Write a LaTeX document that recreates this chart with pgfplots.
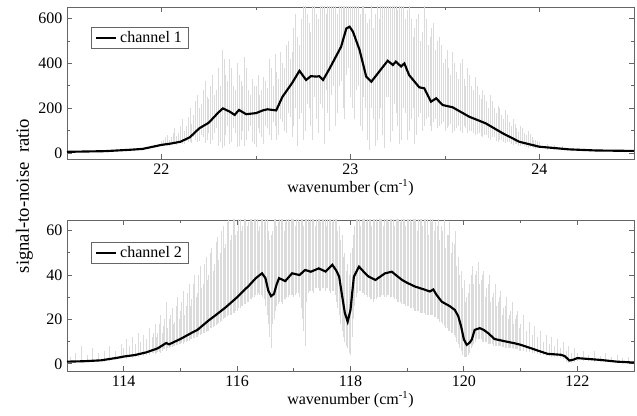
\documentclass[border=0pt]{standalone}
\usepackage{pgfplots}
\pgfplotsset{compat=1.18}
\usepackage{fontspec}
\setmainfont{Liberation Serif}
\definecolor{haze}{gray}{0.86}
\definecolor{frame}{gray}{0.4}
\pgfplotsset{
  panel/.style={
    scale only axis,
    width=425.25pt,
    axis line style={frame, line width=0.7pt},
    tick style={frame, line width=0.6pt},
    tick align=inside,
    major tick length=4pt,
    minor tick length=2.5pt,
    minor tick num=1,
    /pgf/number format/assume math mode=true,
    tick label style={font=\rmfamily\fontsize{12}{14}\selectfont},
    label style={font=\rmfamily\fontsize{12}{14}\selectfont},
    xlabel={wavenumber (cm\textsuperscript{-1})},
    xlabel style={yshift=3pt},
    legend cell align=left,
    legend style={draw=frame, line width=0.6pt, font=\rmfamily\fontsize{12}{14}\selectfont,
      inner xsep=3pt, inner ysep=1pt, anchor=north west},
    legend image code/.code={\draw[#1, line width=1.6pt] (0pt,0pt) -- (15pt,0pt);},
  },
  spikes/.style={draw=none, mark=none, forget plot,
    error bars/.cd, y dir=plus, y explicit, error mark=none,
    error bar style={draw=haze, solid, line width=0.5pt}},
}
\begin{document}
\begin{tikzpicture}
\begin{axis}[panel, name=top, at={(0,0)}, anchor=north west,
  height=114pt, xmin=21.5, xmax=24.5, ymin=-27, ymax=652,
  xtick={22,23,24}, ytick={0,200,400,600},
  legend style={at={(24/567,1-20/152)}}]
\addplot[spikes] table[row sep=\\, x=x, y=lo, y error plus expr=\thisrow{hi}-\thisrow{lo}] {
x lo hi\\
21.70 6 10\\ 21.80 10 16\\ 21.90 14 24\\ 21.96 20 34\\
22.00 30 55\\ 22.02 35 70\\ 22.04 30 60\\ 22.06 40 90\\ 22.08 35 75\\ 22.10 45 120\\
22.12 40 100\\ 22.14 50 160\\ 22.16 45 130\\ 22.18 60 230\\ 22.20 55 200\\ 22.22 70 280\\
22.24 60 250\\ 22.26 40 300\\ 22.28 90 260\\ 22.30 30 380\\ 22.32 20 460\\ 22.34 80 350\\
22.36 40 420\\ 22.38 110 300\\ 22.40 25 400\\ 22.42 60 320\\ 22.44 30 430\\ 22.46 100 280\\
22.48 50 330\\ 22.50 25 300\\ 22.52 90 260\\ 22.54 40 340\\ 22.56 110 290\\ 22.58 60 380\\
22.60 120 440\\ 22.62 80 330\\ 22.64 140 400\\ 22.66 90 480\\ 22.68 160 420\\ 22.70 120 560\\
22.72 30 520\\ 22.74 180 600\\ 22.76 100 660\\ 22.78 200 580\\ 22.80 60 660\\ 22.82 150 620\\
22.84 220 660\\ 22.86 40 660\\ 22.88 180 660\\ 22.90 260 660\\ 22.92 120 660\\ 22.94 300 660\\
22.96 200 660\\ 22.98 350 660\\ 23.00 250 660\\ 23.02 150 660\\ 23.04 300 660\\ 23.06 100 660\\
23.08 200 620\\ 23.10 15 600\\ 23.12 150 560\\ 23.14 60 660\\ 23.16 200 660\\ 23.18 20 660\\
23.20 250 660\\ 23.22 100 660\\ 23.24 180 660\\ 23.26 40 660\\ 23.28 200 660\\ 23.30 60 640\\
23.32 150 600\\ 23.34 40 560\\ 23.36 160 620\\ 23.38 100 540\\ 23.40 150 600\\ 23.42 120 520\\
23.44 140 580\\ 23.46 110 500\\ 23.48 130 480\\ 23.50 100 420\\ 23.52 120 380\\ 23.54 90 450\\
23.56 110 360\\ 23.58 100 400\\ 23.60 120 330\\ 23.62 90 380\\ 23.64 100 300\\ 23.66 80 340\\
23.68 90 260\\ 23.70 70 280\\ 23.72 80 230\\ 23.74 60 260\\ 23.76 70 200\\ 23.78 50 210\\
23.80 60 170\\ 23.82 45 190\\ 23.84 50 140\\ 23.86 35 150\\ 23.88 40 110\\ 23.90 30 120\\
23.92 30 90\\ 23.94 22 100\\ 23.96 25 70\\ 23.98 18 60\\ 24.00 20 50\\ 24.04 15 40\\
24.08 14 35\\ 24.12 12 30\\ 24.20 10 22\\ 24.30 8 16\\
};
\addplot[spikes] table[row sep=\\, x=x, y=lo, y error plus expr=\thisrow{hi}-\thisrow{lo}] {
x lo hi\\
22.01 35 60\\ 22.03 32 80\\ 22.05 40 70\\ 22.07 38 110\\ 22.09 45 90\\ 22.11 42 150\\
22.13 55 120\\ 22.15 50 200\\ 22.17 70 170\\ 22.19 50 260\\ 22.21 80 220\\ 22.23 45 320\\
22.25 90 240\\ 22.27 60 350\\ 22.29 110 280\\ 22.31 50 300\\ 22.33 30 420\\ 22.35 120 320\\
22.37 50 380\\ 22.39 90 280\\ 22.41 30 350\\ 22.43 100 300\\ 22.45 60 380\\ 22.47 120 260\\
22.49 40 300\\ 22.51 110 350\\ 22.53 70 280\\ 22.55 120 320\\ 22.57 80 420\\ 22.59 140 300\\
22.61 60 360\\ 22.63 150 450\\ 22.65 100 380\\ 22.67 180 500\\ 22.69 70 450\\ 22.71 200 620\\
22.73 150 480\\ 22.75 60 660\\ 22.77 220 620\\ 22.79 120 540\\ 22.81 250 660\\ 22.83 90 600\\
22.85 200 660\\ 22.87 280 620\\ 22.89 100 660\\ 22.91 300 660\\ 22.93 180 620\\ 22.95 320 660\\
22.97 150 660\\ 22.99 380 660\\ 23.01 200 660\\ 23.03 280 660\\ 23.05 120 620\\ 23.07 250 660\\
23.09 60 580\\ 23.11 200 660\\ 23.13 30 620\\ 23.15 150 600\\ 23.17 80 660\\ 23.19 250 660\\
23.21 50 660\\ 23.23 220 660\\ 23.25 120 640\\ 23.27 60 660\\ 23.29 180 600\\ 23.31 100 660\\
23.33 200 520\\ 23.35 80 600\\ 23.37 180 500\\ 23.39 120 660\\ 23.41 160 480\\ 23.43 100 560\\
23.45 150 460\\ 23.47 120 520\\ 23.49 140 400\\ 23.51 110 460\\ 23.53 130 350\\ 23.55 100 400\\
23.57 120 330\\ 23.59 90 420\\ 23.61 110 300\\ 23.63 100 350\\ 23.65 90 280\\ 23.67 85 300\\
23.69 75 240\\ 23.71 80 260\\ 23.73 65 200\\ 23.75 70 230\\ 23.77 55 180\\ 23.79 60 200\\
23.81 48 150\\ 23.83 50 170\\ 23.85 40 120\\ 23.87 42 130\\ 23.89 32 95\\ 23.91 35 110\\
23.93 26 80\\ 23.95 28 85\\ 23.97 20 60\\ 23.99 22 55\\
};
\addplot[black, line width=1.6pt] coordinates {
(21.5,5)(21.7,8)(21.83,14)(21.9,18)(22.0,36)(22.05,42)(22.1,50)(22.15,70)(22.2,110)
(22.25,135)(22.3,180)(22.325,199)(22.36,185)(22.387,170)(22.41,192)(22.448,173)(22.5,178)
(22.536,190)(22.56,195)(22.607,190)(22.64,251)(22.69,311)(22.73,367)(22.765,326)(22.79,343)
(22.82,341)(22.835,343)(22.855,326)(22.89,378)(22.95,474)(22.978,556)(22.995,564)(23.013,542)
(23.048,460)(23.083,341)(23.11,318)(23.145,356)(23.197,412)(23.224,393)(23.24,408)(23.268,386)
(23.285,400)(23.31,348)(23.364,293)(23.39,289)(23.426,229)(23.453,244)(23.488,214)(23.54,204)
(23.628,162)(23.716,132)(23.805,88)(23.893,50)(23.998,28)(24.156,16)(24.3,11)(24.5,9)
};
\addlegendentry{channel 1}
\end{axis}
\begin{axis}[panel, name=bottom, at={(0,-159.75pt)}, anchor=north west,
  height=113.25pt, xmin=113, xmax=123, ymin=-3.2, ymax=64.8,
  xtick={114,116,118,120,122}, ytick={0,20,40,60},
  legend style={at={(24/567,1-21.7/151)}}]
\addplot[spikes] table[row sep=\\, x=x, y=lo, y error plus expr=\thisrow{hi}-\thisrow{lo}] {
x lo hi\\
113.05 0.5 3\\ 113.15 0.8 5\\ 113.25 0.5 8\\ 113.35 1 4\\ 113.45 0.8 7\\ 113.55 1.2 5\\
113.65 1 6\\ 113.75 1.5 8\\ 113.85 1.8 6\\ 113.95 2 9\\ 114.00 2.5 7\\ 114.05 2.2 11\\
114.10 3 8\\ 114.15 2.5 12\\ 114.20 3.2 9\\ 114.25 3 14\\ 114.30 3.8 10\\ 114.35 3.5 13\\
114.40 4.2 11\\ 114.45 4 16\\ 114.50 4.8 12\\ 114.55 4.5 18\\ 114.60 5.5 14\\ 114.65 5 22\\
114.70 6.5 17\\ 114.75 6 28\\ 114.80 7 20\\ 114.85 7.5 25\\ 114.90 8 19\\ 114.95 8.5 30\\
115.00 9 24\\ 115.05 9 33\\ 115.10 10 26\\ 115.15 10.5 36\\ 115.20 11 29\\ 115.25 11.5 40\\
115.30 12 32\\ 115.35 13 44\\ 115.40 14 36\\ 115.45 14.5 48\\ 115.50 15 40\\ 115.55 16 52\\
115.60 17 45\\ 115.65 18 57\\ 115.70 19 50\\ 115.75 20 62\\ 115.80 21 54\\ 115.85 22 66\\
115.90 22 58\\ 115.95 23 66\\ 116.00 24 60\\ 116.05 25 66\\ 116.10 26 62\\ 116.15 27 66\\
116.20 28 64\\ 116.25 29 66\\ 116.30 30 66\\ 116.35 31 66\\ 116.40 31 62\\ 116.45 30 66\\
116.50 26 66\\ 116.55 18 60\\ 116.60 7 58\\ 116.65 20 66\\ 116.70 26 62\\ 116.75 28 66\\
116.80 27 66\\ 116.85 29 64\\ 116.90 30 66\\ 116.95 31 66\\ 117.00 30 66\\ 117.05 32 66\\
117.10 30 64\\ 117.15 20 66\\ 117.20 8 66\\ 117.25 32 66\\ 117.30 33 66\\ 117.35 32 66\\
117.40 34 66\\ 117.45 33 66\\ 117.50 34 66\\ 117.55 33 66\\ 117.60 34 66\\ 117.65 32 66\\
117.70 33 66\\ 117.75 28 66\\ 117.80 22 62\\ 117.85 15 58\\ 117.90 10 50\\ 117.95 7 45\\
118.00 4 50\\ 118.05 20 58\\ 118.10 30 66\\ 118.15 33 66\\ 118.20 32 66\\ 118.25 31 66\\
118.30 30 66\\ 118.35 29 66\\ 118.40 28 66\\ 118.45 29 66\\ 118.50 30 66\\ 118.55 31 66\\
118.60 30 66\\ 118.65 31 66\\ 118.70 30 66\\ 118.75 30 66\\ 118.80 29 66\\ 118.85 28 66\\
118.90 27 66\\ 118.95 27 66\\ 119.00 26 66\\ 119.05 25 66\\ 119.10 25 66\\ 119.15 24 66\\
119.20 24 66\\ 119.25 23 66\\ 119.30 23 66\\ 119.35 22 66\\ 119.40 22 66\\ 119.45 22 66\\
119.50 21 64\\ 119.55 20 66\\ 119.60 19 62\\ 119.65 17 66\\ 119.70 16 58\\ 119.75 15 64\\
119.80 14 55\\ 119.85 12 60\\ 119.90 9 48\\ 119.95 6 42\\ 120.00 3 38\\ 120.05 3 30\\
120.10 5 36\\ 120.15 8 44\\ 120.20 10 40\\ 120.25 11 46\\ 120.30 11 38\\ 120.35 10 42\\
120.40 10 34\\ 120.45 9 40\\ 120.50 9 30\\ 120.55 8 36\\ 120.60 8 28\\ 120.65 8 33\\
120.70 7.5 25\\ 120.75 7 30\\ 120.80 7 22\\ 120.85 7 28\\ 120.90 6.5 20\\ 120.95 6.5 24\\
121.00 6 18\\ 121.05 6 22\\ 121.10 5.5 15\\ 121.15 5.5 19\\ 121.20 5 13\\ 121.25 5 17\\
121.30 4.5 12\\ 121.35 4 15\\ 121.40 4 10\\ 121.45 3.5 13\\ 121.50 3.5 9\\ 121.55 3 12\\
121.60 3 8\\ 121.65 3 11\\ 121.70 2.5 7\\ 121.75 2 10\\ 121.80 1 6\\ 121.85 0.5 8\\
121.90 0.5 5\\ 121.95 1 7\\ 122.00 1.5 5\\ 122.10 1.5 6\\ 122.20 1.5 4\\ 122.30 1 6\\
122.40 1 3.5\\ 122.50 0.8 5\\ 122.60 0.8 3\\ 122.70 0.6 4\\ 122.80 0.6 2.5\\ 122.90 0.5 3\\
};
\addplot[spikes] table[row sep=\\, x=x, y=lo, y error plus expr=\thisrow{hi}-\thisrow{lo}] {
x lo hi\\
114.525 5 14\\ 114.575 5 12\\ 114.625 5.5 18\\ 114.675 6 14\\ 114.725 6.5 20\\ 114.775 7 16\\
114.825 7.5 22\\ 114.875 8 18\\ 114.925 8.5 26\\ 114.975 9 20\\ 115.025 9.5 28\\ 115.075 10 22\\
115.125 10.5 32\\ 115.175 11 26\\ 115.225 11.5 36\\ 115.275 12 30\\ 115.325 13 40\\ 115.375 13.5 34\\
115.425 14 45\\ 115.475 15 38\\ 115.525 16 50\\ 115.575 16.5 42\\ 115.625 17.5 55\\ 115.675 18.5 47\\
115.725 19.5 60\\ 115.775 20.5 52\\ 115.825 21.5 64\\ 115.875 22 56\\ 115.925 23 66\\ 115.975 24 58\\
116.025 25 66\\ 116.075 26 60\\ 116.125 27 66\\ 116.175 28 62\\ 116.225 29 66\\ 116.275 30 64\\
116.325 31 66\\ 116.375 32 60\\ 116.425 31 66\\ 116.475 29 64\\ 116.525 22 66\\ 116.575 12 56\\
116.625 18 60\\ 116.675 24 66\\ 116.725 27 64\\ 116.775 28 66\\ 116.825 29 60\\ 116.875 30 66\\
116.925 31 64\\ 116.975 31 66\\ 117.025 31 62\\ 117.075 32 66\\ 117.125 25 66\\ 117.175 15 62\\
117.225 28 66\\ 117.275 33 64\\ 117.325 33 66\\ 117.375 34 62\\ 117.425 34 66\\ 117.475 33 64\\
117.525 34 66\\ 117.575 34 62\\ 117.625 33 66\\ 117.675 33 64\\ 117.725 31 66\\ 117.775 25 60\\
117.825 18 56\\ 117.875 12 48\\ 117.925 8 42\\ 117.975 5 40\\ 118.025 12 52\\ 118.075 26 62\\
118.125 32 66\\ 118.175 33 62\\ 118.225 32 66\\ 118.275 31 64\\ 118.325 30 66\\ 118.375 29 62\\
118.425 29 66\\ 118.475 30 64\\ 118.525 30 66\\ 118.575 31 62\\ 118.625 30 66\\ 118.675 31 64\\
118.725 30 66\\ 118.775 29 62\\ 118.825 28 66\\ 118.875 28 64\\ 118.925 27 66\\ 118.975 26 62\\
119.025 26 66\\ 119.075 25 64\\ 119.125 24 66\\ 119.175 24 60\\ 119.225 23 66\\ 119.275 23 62\\
119.325 22 66\\ 119.375 22 58\\ 119.425 22 64\\ 119.475 21 60\\ 119.525 20 62\\ 119.575 19 56\\
119.625 18 60\\ 119.675 16 52\\ 119.725 15 58\\ 119.775 14 50\\ 119.825 13 54\\ 119.875 10 44\\
119.925 7 40\\ 119.975 4 34\\ 120.025 3 28\\ 120.075 4 32\\ 120.125 7 40\\ 120.175 9 36\\
120.225 11 42\\ 120.275 11 36\\ 120.325 10 40\\ 120.375 10 30\\ 120.425 9 36\\ 120.475 9 28\\
120.525 8 32\\ 120.575 8 26\\ 120.625 8 30\\ 120.675 7.5 22\\ 120.725 7 26\\ 120.775 7 20\\
120.825 7 24\\ 120.875 6.5 18\\ 120.925 6.5 22\\ 120.975 6 16\\
};
\addplot[black, line width=1.6pt] coordinates {
(113.0,1.0)(113.3,1.2)(113.6,1.6)(113.9,2.8)(114.0,3.3)(114.2,4.0)(114.4,5.2)(114.6,7.0)
(114.75,9.4)(114.8,8.8)(115.0,11.2)(115.2,14.0)(115.3,15.3)(115.5,19.6)(115.6,21.5)(115.8,25.5)
(116.0,30.0)(116.1,32.6)(116.2,35.0)(116.33,38.6)(116.44,40.8)(116.5,38.6)(116.55,33)(116.6,30.5)
(116.65,31.5)(116.7,36)(116.74,38.6)(116.85,37.3)(116.97,40.8)(117.1,40)(117.2,42.3)(117.3,41.5)
(117.44,43)(117.56,41.6)(117.68,44.6)(117.75,42)(117.8,39.3)(117.85,31)(117.9,23)(117.95,19)
(118.0,24.3)(118.03,32)(118.06,39.3)(118.15,43.8)(118.25,41)(118.32,39.3)(118.44,37.8)(118.61,40.8)
(118.73,41.5)(118.8,40)(118.91,37.8)(119.0,36.5)(119.14,34.8)(119.3,33.5)(119.4,32.6)(119.46,33.5)
(119.52,31)(119.61,28)(119.75,26)(119.84,24.3)(119.9,21.5)(119.95,17)(120.0,11)(120.05,8.6)
(120.1,9.5)(120.14,11)(120.19,15.3)(120.28,16.1)(120.35,15.3)(120.43,13.8)(120.54,11.2)(120.7,10.3)
(120.89,9.3)(121.0,8.6)(121.19,7)(121.3,6)(121.48,4.5)(121.6,4.3)(121.71,4.1)(121.78,3.5)
(121.86,1.5)(121.92,1.8)(122.0,2.6)(122.2,2.2)(122.4,1.8)(122.7,1.0)(123.0,0.6)
};
\addlegendentry{channel 2}
\end{axis}
\node[rotate=90, font=\rmfamily\fontsize{14}{16}\selectfont] at (-32pt,-141.75pt) {signal-to-noise\ \ ratio};
\pgfresetboundingbox
\path (-50.25pt,5.25pt) rectangle (427.5pt,-306.75pt);
\end{tikzpicture}
\end{document}
